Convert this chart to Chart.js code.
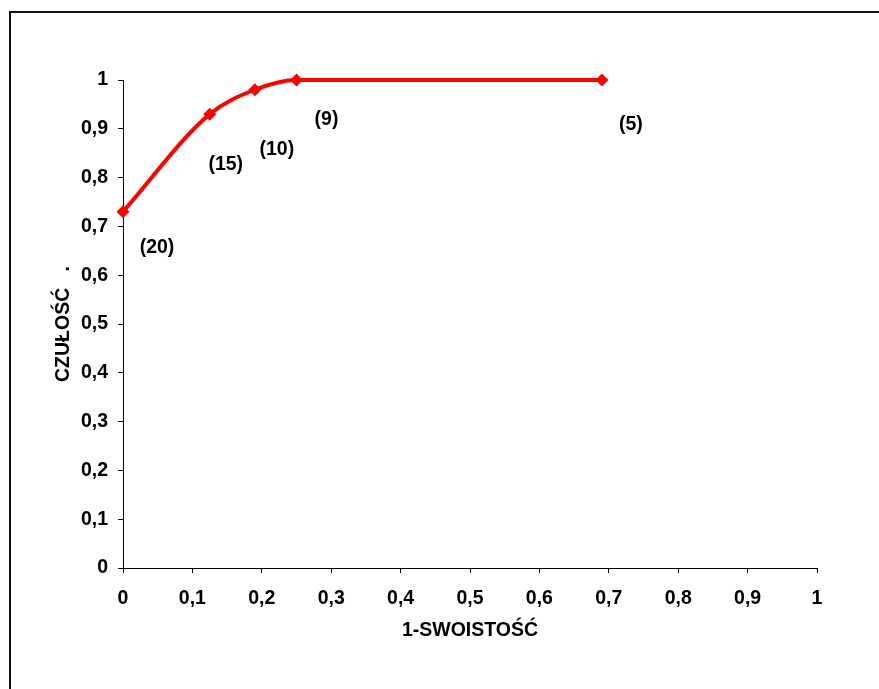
<!DOCTYPE html>
<html>
<head>
<meta charset="utf-8">
<script src="https://cdn.jsdelivr.net/npm/chart.js@4/dist/chart.umd.min.js"></script>
<style>
  html, body { margin: 0; padding: 0; background: #fff; overflow: hidden; }
  #frame { position: absolute; left: 9px; top: 11px; width: 900px; height: 700px;
           border-left: 2px solid #111; border-top: 2px solid #111; }
  #roc { position: absolute; left: 0; top: 0; }
</style>
</head>
<body>
<div id="frame"></div>
<canvas id="roc" width="879" height="689"></canvas>
<script>
// ROC points: 1-specificity vs sensitivity, with the cut-off shown next to each
const oneMinusSpec = [0, 0.125, 0.19, 0.25, 0.69];
const sensitivity = [0.73, 0.93, 0.98, 1, 1];
const cutoffs = ["(20)", "(15)", "(10)", "(9)", "(5)"];

// where each cut-off label sits relative to its point (px)
const labelOffsets = [[34, 36], [16, 50], [22, 60], [30, 40], [29, 45]];

const FONT = "'Liberation Sans', Arial, sans-serif";
const SIZE = 19.5;

function commaTick(v) {
  return String(Number(v.toFixed(1))).replace(".", ",");
}

const cutoffLabels = {
  id: "cutoffLabels",
  afterDatasetsDraw(chart) {
    const ctx = chart.ctx;
    const meta = chart.getDatasetMeta(0);
    ctx.save();
    ctx.font = "bold " + SIZE + "px " + FONT;
    ctx.fillStyle = "#000";
    ctx.textAlign = "center";
    ctx.textBaseline = "middle";
    meta.data.forEach((pt, i) => {
      ctx.fillText(cutoffs[i], pt.x + labelOffsets[i][0], pt.y + labelOffsets[i][1]);
    });
    ctx.restore();
  }
};

const axisStyle = {
  grid: { display: true, drawOnChartArea: false, drawTicks: true, tickLength: 5, color: "#000" },
  border: { display: true, color: "#000", width: 1 }
};

new Chart(document.getElementById("roc").getContext("2d"), {
  type: "scatter",
  data: {
    datasets: [{
      data: oneMinusSpec.map((x, i) => ({ x: x, y: sensitivity[i] })),
      showLine: true,
      borderColor: "#ff0000",
      backgroundColor: "#ff0000",
      borderWidth: 4,
      cubicInterpolationMode: "monotone",
      pointStyle: "rectRot",
      pointRadius: 6.5,
      pointBorderWidth: 0,
      clip: false
    }]
  },
  options: {
    responsive: false,
    animation: false,
    devicePixelRatio: 1,
    layout: { padding: { left: 0, top: 80, right: 62, bottom: 0 } },
    plugins: { legend: { display: false }, tooltip: { enabled: false } },
    scales: {
      x: {
        type: "linear",
        min: 0, max: 1,
        ...axisStyle,
        ticks: { stepSize: 0.1, padding: 14, color: "#000", font: { family: FONT, size: SIZE, weight: "bold" }, callback: commaTick },
        title: { display: true, text: "1-SWOISTOŚĆ", color: "#000", padding: { top: 0, bottom: 47 }, font: { family: FONT, size: SIZE, weight: "bold" } },
        afterFit(scale) { scale.height = 121; scale.paddingLeft = 0; scale.paddingRight = 0; }
      },
      y: {
        type: "linear",
        min: 0, max: 1,
        ...axisStyle,
        ticks: { stepSize: 0.1, padding: 10, color: "#000", font: { family: FONT, size: SIZE, weight: "bold" }, callback: commaTick },
        title: { display: true, text: "CZUŁOŚĆ   .", color: "#000", padding: { top: 52, bottom: 0 }, font: { family: FONT, size: SIZE, weight: "bold" } },
        afterFit(scale) { scale.width = 123; }
      }
    }
  },
  plugins: [cutoffLabels]
});
</script>
</body>
</html>
